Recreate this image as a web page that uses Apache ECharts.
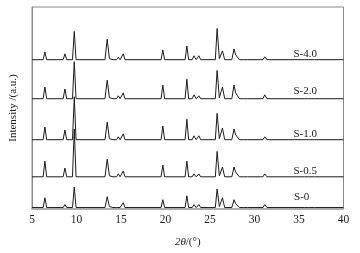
<!DOCTYPE html>
<html>
<head>
<meta charset="utf-8">
<script src="https://cdn.jsdelivr.net/npm/echarts@6/dist/echarts.min.js"></script>
<style>
  html, body { margin: 0; padding: 0; background: #fff; }
  #xrdChart { width: 360px; height: 253px; }
</style>
</head>
<body>
<div id="xrdChart"></div>
<script>
// 2θ positions where the pattern was read (baseline feet and peak tops)
const twoTheta = [5.0, 6.25, 6.45, 6.65, 8.5, 8.7, 8.9, 9.55, 9.75, 9.95,
  13.2, 13.45, 13.7, 13.9, 14.1, 14.5, 14.7, 14.9, 15.05, 15.25, 15.45,
  19.5, 19.7, 19.9, 22.2, 22.4, 22.6, 23.0, 23.2, 23.45, 23.55, 23.75, 23.95,
  25.6, 25.8, 26.05, 26.2, 26.4, 26.65, 27.45, 27.7, 27.88, 28.05, 28.3,
  28.8, 29.0, 29.2, 30.95, 31.15, 31.4, 35.65, 35.85, 36.05, 36.35, 36.55, 36.75, 40.0];

// intensity (a.u.) above each trace's own baseline
const s40 = [0, 0, 8, 0, 0, 6, 0, 0, 29, 0,
  0, 21, 1, 3, 0, 0, 2.5, 0, 0, 6, 0,
  0, 10, 0, 0, 14, 0, 0, 4, 0, 0, 4, 0,
  0, 32, 1, 0, 9, 0, 0, 11, 5, 6, 0,
  0, 1.5, 0, 0, 3, 0, 0, 2, 0, 0, 1, 0, 0];
const s20 = [0, 0, 12, 0, 0, 10, 0, 0, 38, 0,
  0, 19, 1, 3, 0, 0, 3, 0, 0, 6, 0,
  0, 14, 0, 0, 20, 0, 0, 4, 0, 0, 3, 0,
  0, 29, 1, 0, 12, 0, 0, 14, 6, 7, 0,
  0, 1.5, 0, 0, 4, 0, 0, 2, 0, 0, 1, 0, 0];
const s10 = [0, 0, 13, 0, 0, 10, 0, 0, 44, 0,
  0, 18, 1, 3, 0, 0, 3, 0, 0, 6, 0,
  0, 14, 0, 0, 21, 0, 0, 4, 0, 0, 4, 0,
  0, 27, 1, 0, 12, 0, 0, 11, 5, 6, 0,
  0, 1.5, 0, 0, 3, 0, 0, 2, 0, 0, 1, 0, 0];
const s05 = [0, 0, 16, 0, 0, 9, 0, 0, 49, 0,
  0, 18, 1, 3, 0, 0, 3, 0, 0, 6, 0,
  0, 12, 0, 0, 16, 0, 0, 3, 0, 0, 3, 0,
  0, 26, 1, 0, 10, 0, 0, 10, 5, 6, 0,
  0, 1.5, 0, 0, 3, 0, 0, 2, 0, 0, 1, 0, 0];
const s00 = [0, 0, 10, 0, 0, 3, 0, 0, 21, 0,
  0, 11, 1, 3, 0, 0, 2, 0, 0, 5, 0,
  0, 8, 0, 0, 12, 0, 0, 3, 0, 0, 3, 0,
  0, 19, 1, 0, 10, 0, 0, 8, 4, 5, 0,
  0, 1.5, 0, 0, 3, 0, 0, 2, 0, 0, 1, 0, 0];

const sampleNames = ['S-4.0', 'S-2.0', 'S-1.0', 'S-0.5', 'S-0'];
const traces = [s40, s20, s10, s05, s00];
// vertical stacking offset of each trace
const offsets = [153, 113, 71, 33, 1.5];

const serif = 'Liberation Serif';

const series = traces.map((vals, i) => {
  const pts = vals.map((v, k) => [twoTheta[k], v + offsets[i]]);
  const labelUp = i === 4 ? 11 : (i === 1 ? 8 : 6);
  return {
    name: sampleNames[i],
    type: 'line',
    data: pts,
    symbol: 'none',
    silent: true,
    lineStyle: { color: '#1c1c1c', width: 1 },
    markPoint: {
      symbol: 'circle',
      symbolSize: 0,
      silent: true,
      data: [{
        coord: [i === 4 ? 35.3 : 35.7, offsets[i] + labelUp],
        label: {
          show: true,
          formatter: sampleNames[i],
          fontFamily: serif,
          fontSize: 11,
          color: '#222',
          position: 'inside'
        }
      }]
    }
  };
});

const chart = echarts.init(document.getElementById('xrdChart'), null, { renderer: 'canvas' });
chart.setOption({
  animation: false,
  backgroundColor: '#fff',
  grid: {
    left: 27.7, right: 16.5, top: 7, bottom: 39,
    show: true, borderColor: '#8a8a8a', borderWidth: 1
  },
  xAxis: {
    type: 'value',
    min: 5, max: 40, interval: 5,
    axisLine: { show: true, lineStyle: { color: '#a8a8a8', width: 1.5 } },
    axisTick: { show: false },
    splitLine: { show: false },
    axisLabel: { fontFamily: serif, fontSize: 11.5, color: '#222', margin: 5 },
    name: '{i|2θ}/(°)',
    nameLocation: 'middle',
    nameGap: 28,
    nameTextStyle: {
      fontFamily: serif, fontSize: 11, color: '#222',
      rich: { i: { fontFamily: serif, fontSize: 11, fontStyle: 'italic', color: '#222' } }
    }
  },
  yAxis: {
    type: 'value',
    min: 0, max: 207,
    axisLine: { show: true, lineStyle: { color: '#8a8a8a', width: 1 } },
    axisTick: { show: false },
    axisLabel: { show: false },
    splitLine: { show: false },
    name: 'Intensity /(a.u.)',
    nameLocation: 'middle',
    nameGap: 13,
    nameTextStyle: { fontFamily: serif, fontSize: 11, color: '#222' }
  },
  series: series
});
</script>
</body>
</html>
